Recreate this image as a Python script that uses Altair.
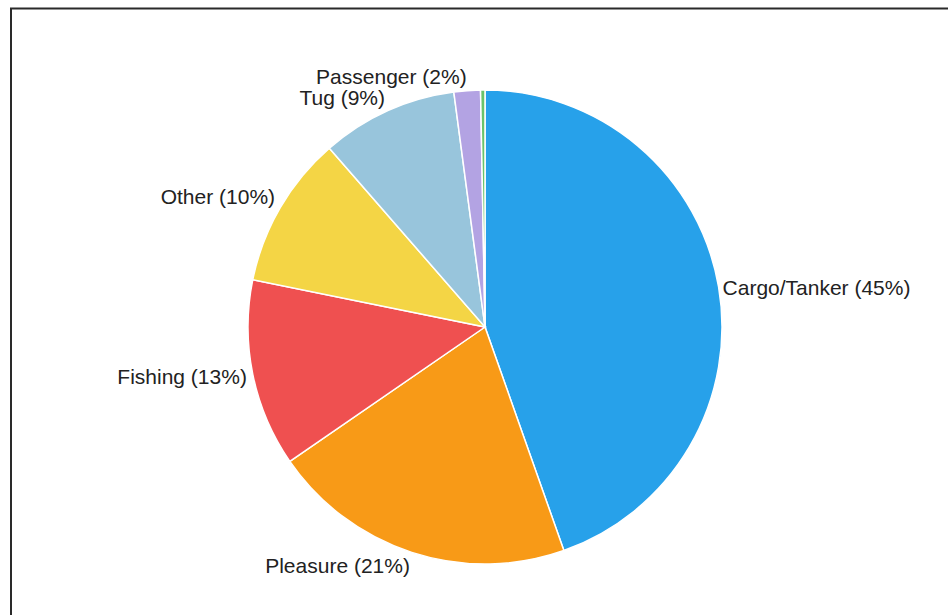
import altair as alt
import pandas as pd

categories = ["Cargo/Tanker", "Pleasure", "Fishing", "Other", "Tug", "Passenger", "Unknown"]
values = [44.6, 20.8, 12.8, 10.4, 9.3, 1.8, 0.3]
labels = ["Cargo/Tanker (45%)", "Pleasure (21%)", "Fishing (13%)", "Other (10%)",
          "Tug (9%)", "Passenger (2%)", ""]
colors = ["#27A1EA", "#F89A17", "#EF5050", "#F4D545", "#98C5DC", "#B3A3E3", "#6AC36A"]

df = pd.DataFrame({
    "category": categories,
    "value": values,
    "label": labels,
    "idx": list(range(len(categories))),
})

CX, CY, R = 485, 327, 237
FONT = "Liberation Sans"
FS = 21

base = alt.Chart(df)

arcs = base.mark_arc(radius=R, stroke="white", strokeWidth=1.5).encode(
    theta=alt.Theta("value:Q", stack=True),
    color=alt.Color("category:N", scale=alt.Scale(domain=categories, range=colors), legend=None),
    order=alt.Order("idx:Q", sort="ascending"),
    x=alt.value(CX),
    y=alt.value(CY),
)

text_base = base.transform_window(
    cum="sum(value)", sort=[alt.SortField("idx", order="ascending")], frame=[None, 0]
).transform_calculate(
    mid="datum.cum - datum.value / 2"
)


def label_layer(flt, align, dy, radius=243):
    return text_base.transform_filter(flt).mark_text(
        radius=radius, align=align, baseline="middle", font=FONT, fontSize=FS,
        color="#222222", dy=dy
    ).encode(
        theta=alt.Theta("mid:Q", stack=False),
        text="label:N",
        x=alt.value(CX),
        y=alt.value(CY),
    )


right_text = label_layer("datum.idx == 0", "left", 3, radius=241)
bottom_text = label_layer("datum.idx == 1", "right", 9)
fishing_text = label_layer("datum.idx == 2", "right", 2)
top_text = label_layer("datum.idx >= 3", "right", -7)

frame = alt.Chart(pd.DataFrame({"a": [0]})).mark_rect(
    filled=False, stroke="#2a2a2a", strokeWidth=2
).encode(
    x=alt.value(11), x2=alt.value(1100), y=alt.value(8.5), y2=alt.value(900)
)

chart = alt.layer(frame, arcs, right_text, bottom_text, fishing_text, top_text).properties(
    width=948, height=615, padding=0, autosize=alt.AutoSizeParams(type="none"),
    background="white"
).configure_view(stroke=None)

chart.save("out.html", embed_options={"renderer": "svg", "actions": False})
